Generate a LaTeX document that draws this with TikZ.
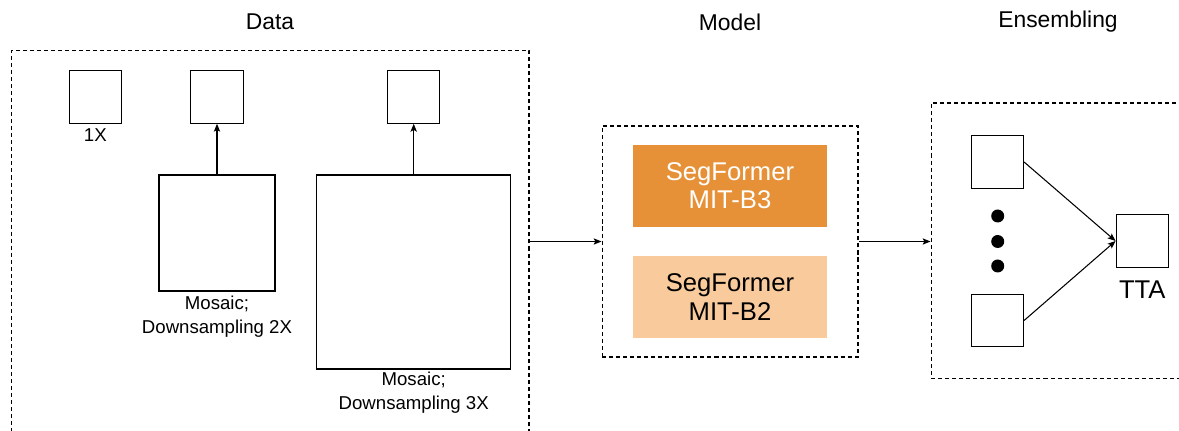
\documentclass[tikz,border=0pt]{standalone}
\usepackage{fontspec}
\setmainfont{Liberation Sans}
\usepackage{xcolor}
\usetikzlibrary{arrows.meta}
\usetikzlibrary{positioning}
\definecolor{segdark}{RGB}{230,145,56}
\definecolor{seglight}{RGB}{249,203,156}

\begin{document}
\begin{tikzpicture}[x=0.02cm,y=-0.02cm,
		frame/.style={draw,dash pattern=on 2.3pt off 1.7pt,line width=0.6pt},
		imgbox/.style={draw,line width=0.6pt,minimum size=#1},
		modelbox/.style={fill=#1,minimum width=3.88cm,minimum height=1.64cm,align=center,
			font=\fontsize{14.6}{16.1}\selectfont},
		title/.style={font=\fontsize{13}{15.6}\selectfont},
		lbl/.style={align=center,inner sep=0pt,font=\fontsize{10.6}{13.7}\selectfont},
		dot/.style={circle,fill=black,minimum size=0.26cm,inner sep=0pt},
		arr/.style={-{Stealth[length=4.5pt,width=3.6pt,inset=1pt]},line width=0.6pt}]
		\useasboundingbox (0,0) rectangle (1179,431);
		\clip (0,0) rectangle (1179,431);
		% titles
		\node[title] (tdata) at (270,22) {Data};
		\node[title] (tmodel) at (730,22) {Model};
		\node[title] (tens) at (1058,22) {Ensembling};
		% data
		\node[frame,minimum width=10.35cm,minimum height=8cm] (data) at (270.3,250) {};
		\node[imgbox=1.05cm] (one) at (95.3,97) {};
		\node[lbl] (lone) at (95.3,135) {1X};
		\node[imgbox=1.05cm] (small2) at (217,97) {};
		\node[imgbox=2.32cm] (big2) at (217,233) {};
		\node[lbl] (lbig2) at (217,317) {Mosaic;\\Downsampling 2X};
		\node[imgbox=1.05cm] (small3) at (413.7,97) {};
		\node[imgbox=3.88cm] (big3) at (413.7,272) {};
		\node[lbl] (lbig3) at (413.7,393) {Mosaic;\\Downsampling 3X};
		\draw[arr] (big2.north) -- (small2.south);
		\draw[arr] (big3.north) -- (small3.south);
		% model
		\node[frame,minimum width=5.12cm,minimum height=4.62cm] (model) at (730,241.5) {};
		\node[modelbox=segdark,text=white] (b3) at (730,186) {SegFormer\\MIT-B3};
		\node[modelbox=seglight] (b2) at (730,297) {SegFormer\\MIT-B2};
		\draw[arr] (data.east |- model.west) -- (model.west);
		% ensembling
		\node[frame,minimum width=5.1cm,minimum height=5.52cm] (ens) at (1058.5,241) {};
		\node[imgbox=1.05cm] (e1) at (997.3,162) {};
		\node[imgbox=1.05cm] (e2) at (997.3,320.5) {};
		\node[dot] (d1) at (997.7,216) {};
		\node[dot] (d2) at (997.7,241.5) {};
		\node[dot] (d3) at (997.7,266) {};
		\node[imgbox=1.05cm] (tta) at (1142.3,241) {};
		\node[font=\fontsize{14.6}{16.1}\selectfont] (ltta) at (1142.3,290) {TTA};
		\draw[arr] (model.east) -- (ens.west |- model.east);
		\draw[arr] (e1.east) -- (tta.west);
		\draw[arr] (e2.east) -- (tta.west);
	\end{tikzpicture}
\end{document}
